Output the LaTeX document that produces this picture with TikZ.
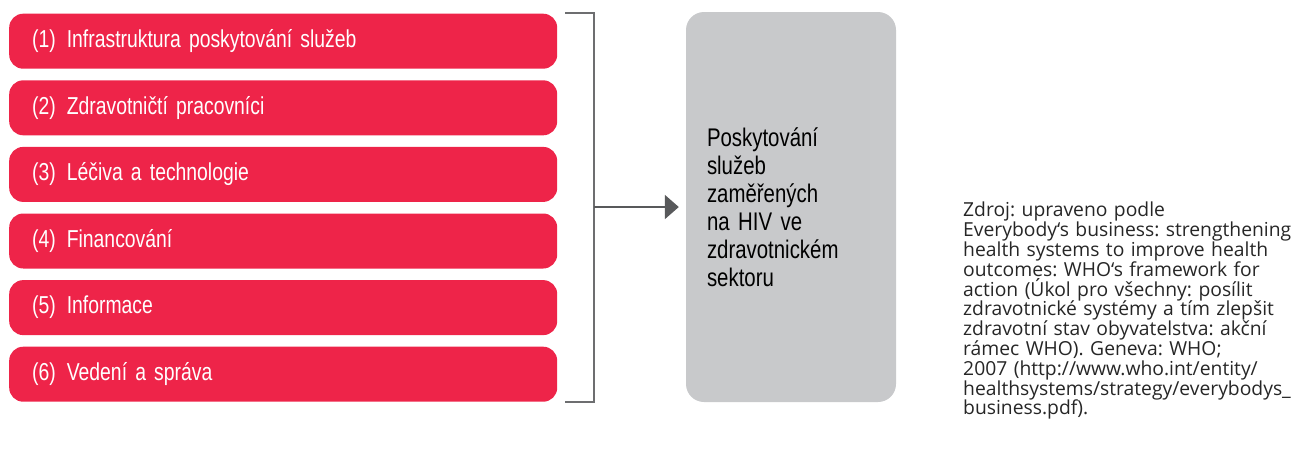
\documentclass[tikz,border=0pt]{standalone}
\usepackage{fontspec}
\setmainfont{Liberation Sans}
\newfontfamily\condfont{Liberation Sans}[FakeStretch=0.79]
\newfontfamily\midfont{Liberation Sans}[FakeStretch=0.8]
\newfontfamily\srcfont{Open Sans}
\newcommand{\pillarfont}{\condfont\fontsize{24.5}{27}\selectfont\spaceskip=6pt\relax}
\newcommand{\outcomefont}{\midfont\fontsize{25.5}{28}\selectfont\spaceskip=6.5pt\relax}
\newcommand{\sourcefont}{\srcfont\fontsize{19.3}{19.8}\selectfont\frenchspacing}
\usetikzlibrary{arrows.meta}
\definecolor{hivred}{HTML}{EE2449}
\definecolor{boxgray}{HTML}{C8C9CB}
\definecolor{linegray}{HTML}{6D6E70}
\definecolor{arrowgray}{HTML}{58595B}
\tikzset{
  pillar/.style={rectangle, rounded corners=14pt, fill=hivred, text=white,
    minimum width=548pt, minimum height=55pt, text width=502pt, inner xsep=23pt,
    anchor=west, font=\pillarfont},
  outcome/.style={rectangle, rounded corners=18pt, fill=boxgray, text=black,
    minimum width=210pt, minimum height=390pt, text width=168pt, inner xsep=21pt,
    font=\outcomefont},
  bracketline/.style={draw=linegray, line width=2pt},
  flow/.style={draw=arrowgray, line width=2pt, -{Triangle[length=14pt,width=24pt]}},
  source/.style={anchor=north west, text width=335pt, inner sep=0pt,
    text=black!85, font=\sourcefont}
}
\begin{document}
\begin{tikzpicture}[x=1pt,y=-1pt]
\useasboundingbox (0,0) rectangle (1293,448);
\node[pillar] (p1) at (9,41.2) {(1)\hspace{11pt}Infrastruktura poskytování služeb};
\node[pillar] (p2) at (9,107.8) {(2)\hspace{11pt}Zdravotničtí pracovníci};
\node[pillar] (p3) at (9,174.4) {(3)\hspace{11pt}Léčiva a technologie};
\node[pillar] (p4) at (9,241.0) {(4)\hspace{11pt}Financování};
\node[pillar] (p5) at (9,307.6) {(5)\hspace{11pt}Informace};
\node[pillar] (p6) at (9,374.2) {(6)\hspace{11pt}Vedení a správa};
\node[outcome] (out) at (791,207) {Poskytování\\služeb\\zaměřených\\na HIV ve\\zdravotnickém\\sektoru};
\coordinate (btop) at (565,13);
\coordinate (bbot) at (565,402);
\coordinate (bmid) at (594,207);
\draw[bracketline] (btop) -| (bmid) |- (bbot);
\draw[flow, shorten >=7pt] (bmid) -- (out.west);
\node[source] (src) at (963,202) {Zdroj: upraveno podle\\Everybody‘s business: strengthening\\health systems to improve health\\outcomes: WHO‘s framework for\\action (Úkol pro všechny: posílit\\zdravotnické systémy a tím zlepšit\\zdravotní stav obyvatelstva: akční\\rámec WHO). Geneva: WHO;\\2007 (http://www.who.int/entity/\\healthsystems/strategy/everybodys\_\\business.pdf).};
\end{tikzpicture}
\end{document}
